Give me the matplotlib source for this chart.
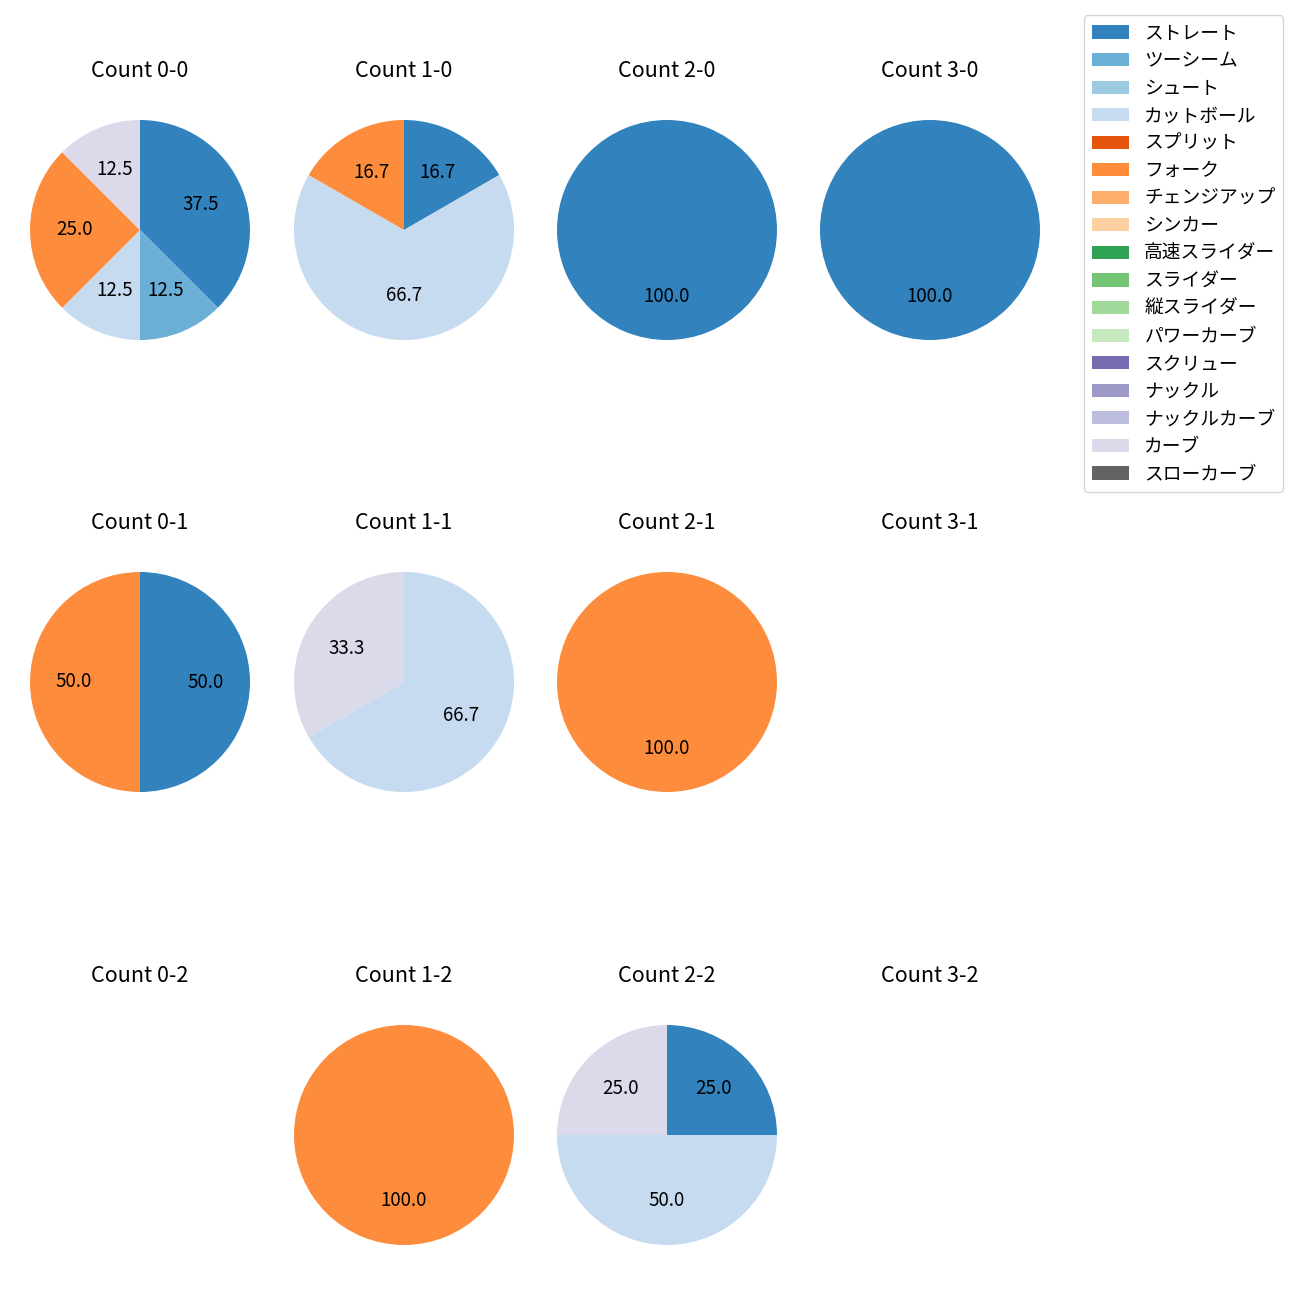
import matplotlib as mpl
mpl.use('Agg')
import matplotlib.pyplot as plt
from matplotlib.patches import Patch
import numpy as np

plt.rcParams['font.family'] = ['Noto Sans CJK JP', 'DejaVu Sans']

pitch_types = ['ストレート', 'ツーシーム', 'シュート', 'カットボール', 'スプリット', 'フォーク',
               'チェンジアップ', 'シンカー', '高速スライダー', 'スライダー', '縦スライダー',
               'パワーカーブ', 'スクリュー', 'ナックル', 'ナックルカーブ', 'カーブ', 'スローカーブ']
colors = [plt.cm.tab20c(i) for i in range(len(pitch_types))]

# pitch counts per ball-strike count
counts = {
    '0-0': {'ストレート': 3, 'ツーシーム': 1, 'カットボール': 1, 'フォーク': 2, 'カーブ': 1},
    '1-0': {'ストレート': 1, 'カットボール': 4, 'フォーク': 1},
    '2-0': {'ストレート': 1},
    '3-0': {'ストレート': 1},
    '0-1': {'ストレート': 1, 'フォーク': 1},
    '1-1': {'カットボール': 2, 'カーブ': 1},
    '2-1': {'フォーク': 1},
    '3-1': {},
    '0-2': {},
    '1-2': {'フォーク': 1},
    '2-2': {'ストレート': 1, 'カットボール': 2, 'カーブ': 1},
    '3-2': {},
}

W = H = 1300
col_x = [140, 404, 667, 930]
row_y = [230, 682, 1135]
box = 275

fig = plt.figure(figsize=(13, 13), dpi=100)

for s in range(3):
    for b in range(4):
        key = f'{b}-{s}'
        cx, cy = col_x[b], row_y[s]
        ax = fig.add_axes([(cx - box / 2) / W, 1 - (cy + box / 2) / H, box / W, box / H])
        data = counts[key]
        vals = [data.get(p, 0) for p in pitch_types]
        idx = [i for i, v in enumerate(vals) if v > 0]
        if idx:
            ax.pie([vals[i] for i in idx], colors=[colors[i] for i in idx],
                   autopct='%.1f', startangle=90, counterclock=False,
                   textprops={'fontsize': 13.5})
        else:
            ax.set_xlim(-1.25, 1.25)
            ax.set_ylim(-1.25, 1.25)
            ax.axis('off')
        ax.set_aspect('equal')
        ax.set_title(f'Count {key}', fontsize=15.5, pad=11)

handles = [Patch(facecolor=c, label=p) for p, c in zip(pitch_types, colors)]
fig.legend(handles=handles, loc='upper right', bbox_to_anchor=(1283 / W, 1 - 15 / H),
           borderaxespad=0, fontsize=13.5, labelspacing=0.35, frameon=True)

fig.savefig('out.png', dpi=100)
